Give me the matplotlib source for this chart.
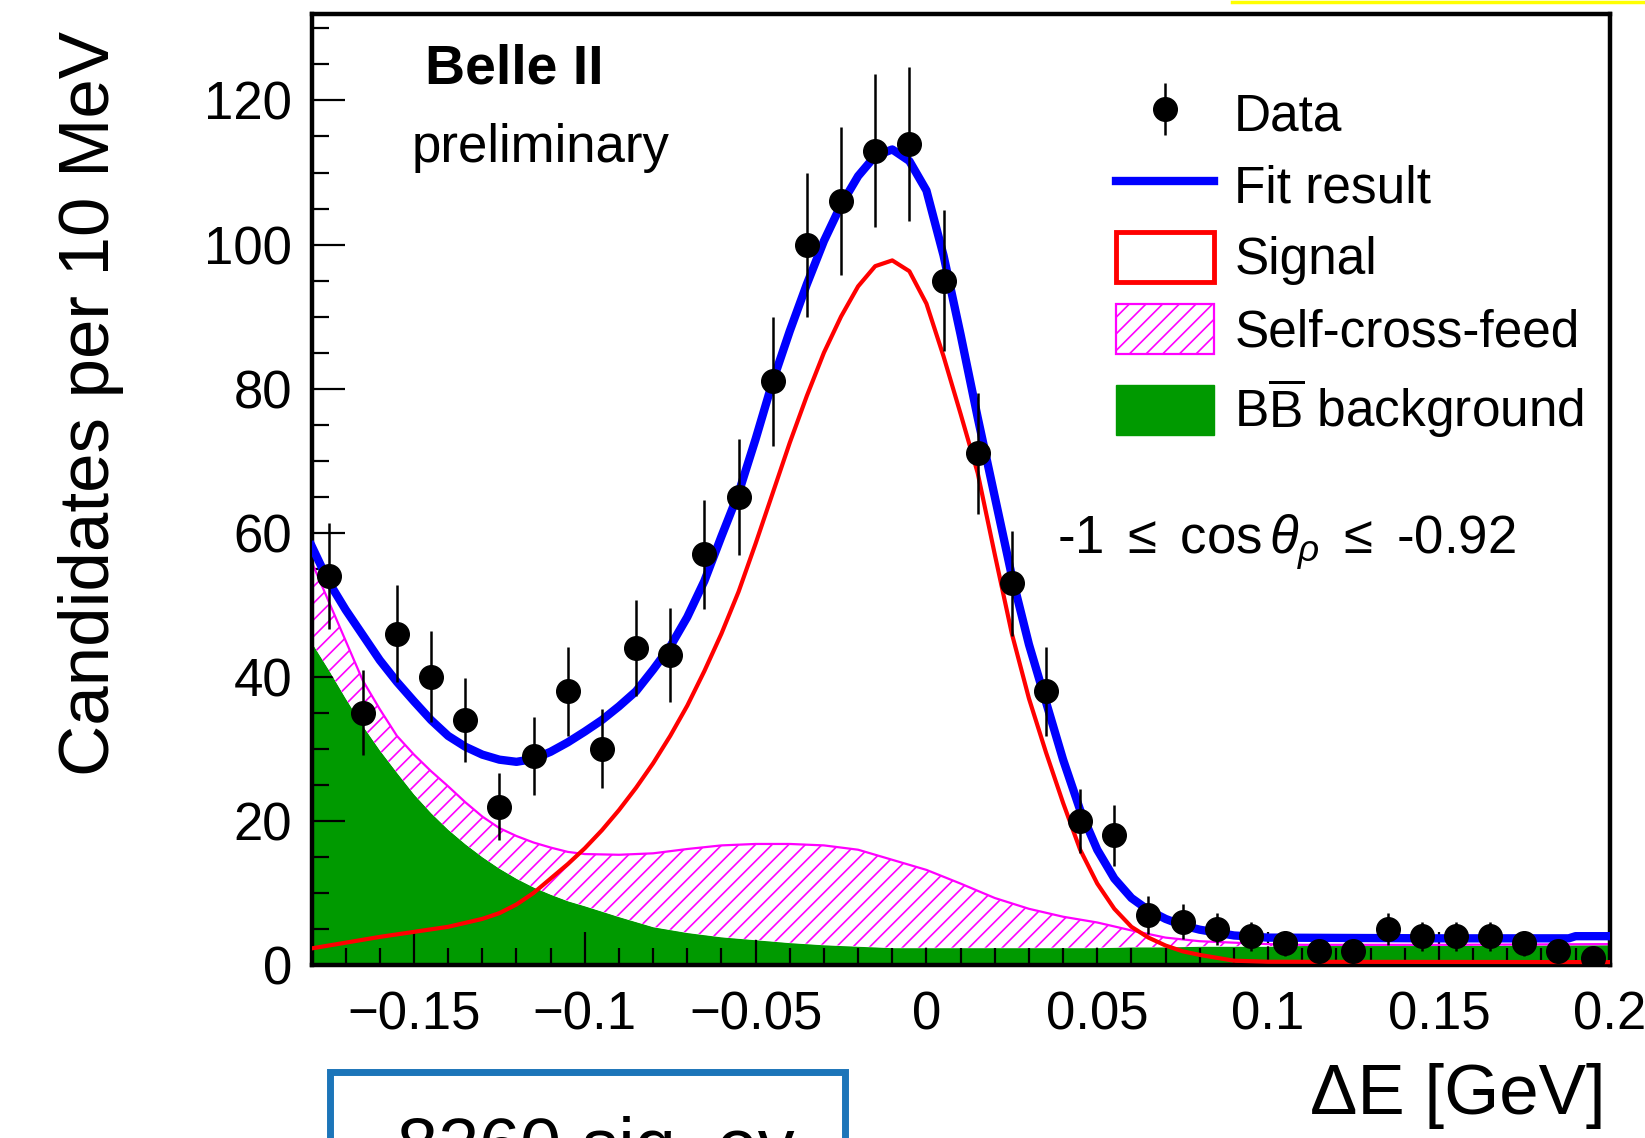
import numpy as np
import matplotlib
matplotlib.use("Agg")
import matplotlib.pyplot as plt
from matplotlib.patches import Patch, Rectangle
from matplotlib.lines import Line2D
from matplotlib.ticker import MultipleLocator, FixedLocator, FixedFormatter

plt.rcParams['font.family'] = ['Liberation Sans', 'DejaVu Sans']
plt.rcParams['mathtext.fontset'] = 'custom'
plt.rcParams['mathtext.rm'] = 'Liberation Sans'
plt.rcParams['mathtext.it'] = 'Liberation Sans:italic'
plt.rcParams['hatch.color'] = '#ff00ff'
plt.rcParams['hatch.linewidth'] = 1.2

# --- data: Delta E histogram (10 MeV bins) ---
de_centers = [-0.175, -0.165, -0.155, -0.145, -0.135, -0.125, -0.115, -0.105, -0.095, -0.085,
              -0.075, -0.065, -0.055, -0.045, -0.035, -0.025, -0.015, -0.005, 0.005, 0.015,
              0.025, 0.035, 0.045, 0.055, 0.065, 0.075, 0.085, 0.095, 0.105, 0.115,
              0.125, 0.135, 0.145, 0.155, 0.165, 0.175, 0.185, 0.195]
counts = [54, 35, 46, 40, 34, 22, 29, 38, 30, 44,
          43, 57, 65, 81, 100, 106, 113, 114, 95, 71,
          53, 38, 20, 18, 7, 6, 5, 4, 3, 2,
          2, 5, 4, 4, 4, 3, 2, 1]

# --- fit result (total) ---
fit_x = [-0.180, -0.175, -0.170, -0.165, -0.160, -0.155, -0.150, -0.145, -0.140, -0.135,
         -0.130, -0.125, -0.120, -0.115, -0.110, -0.105, -0.100, -0.095, -0.090, -0.085,
         -0.080, -0.075, -0.070, -0.065, -0.060, -0.055, -0.050, -0.045, -0.040, -0.035,
         -0.030, -0.025, -0.020, -0.015, -0.010, -0.005, 0.000, 0.005, 0.010, 0.015,
         0.020, 0.025, 0.030, 0.035, 0.040, 0.045, 0.050, 0.055, 0.060, 0.065,
         0.070, 0.075, 0.080, 0.090, 0.100, 0.150, 0.188, 0.190, 0.200]
fit_y = [58.2, 53.2, 49.3, 45.8, 42.3, 39.3, 36.6, 34.0, 31.8, 30.3,
         29.2, 28.5, 28.2, 28.6, 29.6, 30.9, 32.4, 34.0, 35.9, 38.0,
         41.0, 44.2, 48.3, 53.3, 59.5, 65.5, 73.0, 81.0, 88.0, 94.5,
         100.5, 105.5, 109.5, 112.3, 113.2, 111.6, 107.5, 98.5, 87.5, 76.0,
         65.0, 54.0, 44.5, 36.5, 28.5, 21.5, 16.0, 12.0, 9.3, 7.6,
         6.4, 5.5, 4.9, 4.1, 3.8, 3.7, 3.7, 4.0, 4.0]

# --- signal component ---
sig_x = [-0.180, -0.170, -0.160, -0.150, -0.140, -0.130, -0.125, -0.120, -0.115, -0.110,
         -0.105, -0.100, -0.095, -0.090, -0.085, -0.080, -0.075, -0.070, -0.065, -0.060,
         -0.055, -0.050, -0.045, -0.040, -0.035, -0.030, -0.025, -0.020, -0.015, -0.010,
         -0.005, 0.000, 0.005, 0.010, 0.015, 0.020, 0.025, 0.030, 0.035, 0.040,
         0.045, 0.050, 0.055, 0.060, 0.065, 0.070, 0.075, 0.080, 0.085, 0.090,
         0.100, 0.200]
sig_y = [2.3, 3.1, 3.9, 4.6, 5.3, 6.4, 7.2, 8.4, 10.0, 12.0,
         14.0, 16.2, 18.7, 21.5, 24.6, 28.0, 31.8, 36.0, 40.8, 46.0,
         51.8, 58.5, 65.5, 72.5, 79.0, 85.0, 90.0, 94.2, 97.0, 97.8,
         96.3, 91.8, 84.5, 76.5, 68.3, 57.0, 46.0, 37.0, 29.5, 22.5,
         16.0, 11.3, 7.8, 5.3, 3.8, 2.7, 1.9, 1.4, 1.0, 0.6,
         0.45, 0.4]

# --- background components (stacked) ---
comp_x = [-0.180, -0.175, -0.170, -0.165, -0.160, -0.155, -0.150, -0.145, -0.140, -0.135,
          -0.130, -0.125, -0.120, -0.115, -0.110, -0.105, -0.100, -0.090, -0.080, -0.070,
          -0.060, -0.050, -0.040, -0.030, -0.020, -0.010, 0.000, 0.010, 0.020, 0.030,
          0.040, 0.050, 0.060, 0.070, 0.080, 0.090, 0.100, 0.110, 0.150, 0.200]
bb_top = [44.8, 41.0, 37.0, 33.2, 29.8, 26.7, 23.7, 21.1, 18.8, 16.8,
          15.0, 13.4, 12.0, 10.8, 9.8, 8.9, 8.2, 6.7, 5.3, 4.5,
          3.9, 3.5, 3.1, 2.8, 2.6, 2.4, 2.4, 2.4, 2.4, 2.4,
          2.4, 2.4, 2.5, 2.5, 2.6, 2.6, 2.6, 2.7, 2.7, 2.8]
scf_top = [56.0, 50.5, 45.0, 39.5, 35.5, 31.8, 29.2, 26.9, 24.8, 22.6,
           20.6, 19.0, 17.9, 17.0, 16.3, 15.7, 15.4, 15.3, 15.5, 16.1,
           16.6, 16.8, 16.8, 16.6, 16.0, 14.6, 13.2, 11.3, 9.3, 7.8,
           6.7, 5.9, 4.8, 3.8, 3.3, 3.1, 2.9, 2.8, 2.8, 2.9]

x_tick_vals = [-0.15, -0.1, -0.05, 0, 0.05, 0.1, 0.15, 0.2]
x_tick_labels = ['\u22120.15', '\u22120.1', '\u22120.05', '0', '0.05', '0.1', '0.15', '0.2']
legend_labels = ['Data', 'Fit result', 'Signal', 'Self-cross-feed',
                 r'$\mathrm{B\overline{B}}$ background']

W, H = 1645, 1138
fig = plt.figure(figsize=(W / 100, H / 100), dpi=100)
ax = fig.add_axes([311.5 / W, 1 - 965 / H, (1609.7 - 311.5) / W, (965 - 14) / H])

green = '#009a00'
magenta = '#ff00ff'

ax.fill_between(comp_x, 0, bb_top, color=green, lw=0, zorder=1)
ax.fill_between(comp_x, bb_top, scf_top, facecolor='white', edgecolor=magenta,
                hatch='//', lw=0, zorder=2)
ax.plot(comp_x, scf_top, color=magenta, lw=1.6, zorder=2.5)
ax.plot(sig_x, sig_y, color='#ff0000', lw=3.0, zorder=3)
ax.plot(fit_x, fit_y, color='#0000ff', lw=6, zorder=4)
data_h = ax.errorbar(de_centers, counts, yerr=np.sqrt(counts), fmt='o', color='black',
                     ms=17, elinewidth=1.8, capsize=0, zorder=5)

ax.set_xlim(-0.18, 0.2)
ax.set_ylim(0, 132)
ax.xaxis.set_major_locator(FixedLocator(x_tick_vals))
ax.xaxis.set_major_formatter(FixedFormatter(x_tick_labels))
ax.xaxis.set_minor_locator(MultipleLocator(0.01))
ax.yaxis.set_major_locator(MultipleLocator(20))
ax.yaxis.set_minor_locator(MultipleLocator(5))
ax.tick_params(which='both', direction='in', width=1.6, labelsize=38)
ax.tick_params(which='major', length=24)
ax.tick_params(which='minor', length=12)
ax.tick_params(axis='x', pad=18)
ax.tick_params(axis='y', pad=14)
for sp in ax.spines.values():
    sp.set_linewidth(3.2)

# labels
fig.text(1605 / W, 1 - 1096 / H, '\u0394E [GeV]', ha='right', va='center', fontsize=51)
fig.text(91 / W, 1 - 31 / H, 'Candidates per 10 MeV', rotation=90, ha='center', va='top',
         fontsize=51)
fig.text(425 / W, 1 - 70 / H, 'Belle II', weight='bold', fontsize=40, va='center')
fig.text(412 / W, 1 - 148 / H, 'preliminary', fontsize=38, va='center')
fig.text(1057 / W, 1 - 542 / H, r'-1 $\leq$ cos$\,\theta_{\rho}$ $\leq$ -0.92',
         fontsize=38, va='center')

handles = [data_h,
           Line2D([], [], color='#0000ff', lw=6),
           Patch(facecolor='white', edgecolor='#ff0000', lw=3.5),
           Patch(facecolor='white', edgecolor=magenta, hatch='//', lw=1.6),
           Patch(facecolor=green, edgecolor=green)]
ax.legend(handles, legend_labels, loc='upper left', bbox_to_anchor=(1116 / W, 1 - 88 / H),
          bbox_transform=fig.transFigure, frameon=False, fontsize=37, handlelength=1.9,
          handleheight=1.1, handletextpad=0.4, labelspacing=0.37, borderpad=0,
          borderaxespad=0)

# overlay marks on the slide: hand-drawn blue box and yellow highlight edge
fig.patches.append(Rectangle((330 / W, -0.1), (845 - 330) / W, 0.1 + 1 - 1072 / H,
                             transform=fig.transFigure, fill=False, ec='#1c75b9', lw=5))
fig.text(397 / W, 1 - 1170 / H, '8260 sig. ev', fontsize=53, va='baseline')
fig.lines.append(Line2D([1232 / W, 1.0], [1 - 1.5 / H, 1 - 1.5 / H], transform=fig.transFigure,
                        color='#ffff00', lw=2.5))

fig.savefig('out.png', dpi=100)
